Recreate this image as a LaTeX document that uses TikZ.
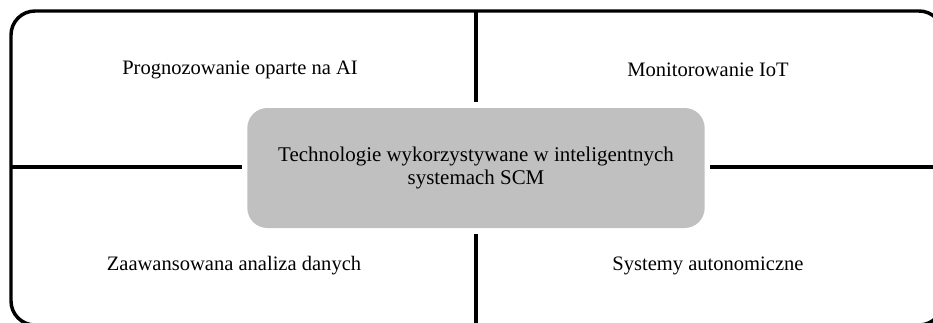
\documentclass[tikz,border=0pt]{standalone}
\usepackage{fontspec}
\setmainfont{Liberation Serif}
\usepackage{tikz}

\begin{document}
\begin{tikzpicture}[x=0.75pt, y=-0.75pt, line width=2.6pt,
    centre/.style = {fill={rgb,255:red,192;green,192;blue,192}, rounded corners=15pt, minimum width=343pt, minimum height=90pt, align=center, font=\fontsize{15.7}{17.5}\selectfont},
    label/.style = {font=\fontsize{15.4}{17}\selectfont}]
    \useasboundingbox (0,0) rectangle (933,322);
    \clip (0,0) rectangle (933,322);
    \draw[rounded corners=18pt] (11,11) rectangle (943,325);
    \node[centre] (tech) at (476,168) {Technologie wykorzystywane w inteligentnych\\systemach SCM};
    \coordinate (top) at (476,11);
    \coordinate (bottom) at (476,330);
    \coordinate (left) at (11,167);
    \coordinate (right) at (943,167);
    \draw (top) -- ([yshift=3pt]tech.north);
    \draw (bottom) -- ([yshift=-3pt]tech.south);
    \draw (left) -- ([xshift=-3pt]tech.west |- left);
    \draw (right) -- ([xshift=3pt]tech.east |- right);
    \node[label] (ai) at (240,70) {Prognozowanie oparte na AI};
    \node[label] (iot) at (708,70) {Monitorowanie IoT};
    \node[label] (data) at (234,266) {Zaawansowana analiza danych};
    \node[label] (auto) at (708,266) {Systemy autonomiczne};
\end{tikzpicture}
\end{document}
